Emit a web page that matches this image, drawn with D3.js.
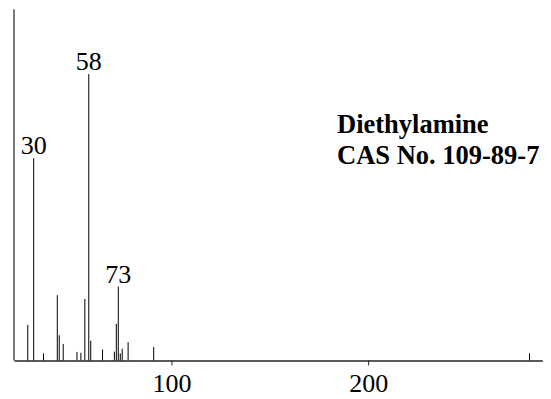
<!DOCTYPE html>
<html>
<head>
<meta charset="utf-8">
<script src="https://cdn.jsdelivr.net/npm/d3@7"></script>
<style>
  html, body { margin: 0; padding: 0; background: #fff; }
  svg { display: block; }
</style>
</head>
<body>
<svg id="chart" width="551" height="399"></svg>
<script>
// Mass spectrum of diethylamine: m/z and relative intensity (base peak = 100)
const mz        = [27, 30, 35, 42, 43, 45, 52, 54, 56, 58, 59, 65, 71, 72, 73, 74, 75, 78, 91, 282];
const intensity = [12.4, 70.6, 2.5, 22.8, 8.8, 5.8, 3.0, 2.7, 21.5, 100, 6.9, 3.8, 3.1, 12.8, 25.8, 2.5, 4.1, 6.4, 4.7, 2.5];
const labelledPeaks = [30, 58, 73];
const xTicks = [100, 200];
const titleLines = ["Diethylamine", "CAS No. 109-89-7"];

const svg = d3.select("#chart");
const serif = "'Liberation Serif', 'Times New Roman', serif";

const x = d3.scaleLinear().domain([20, 288.5]).range([14, 542.3]);
const y = d3.scaleLinear().domain([0, 122.6]).range([360.5, 9.3]);

// sticks
svg.append("g")
  .selectAll("line")
  .data(mz.map((m, i) => ({ m, v: intensity[i] })))
  .join("line")
  .attr("x1", d => x(d.m)).attr("x2", d => x(d.m))
  .attr("y1", y(0)).attr("y2", d => y(d.v))
  .attr("stroke", "#000").attr("stroke-width", 1);

// peak labels
svg.append("g")
  .selectAll("text")
  .data(labelledPeaks.map(m => ({ m, v: intensity[mz.indexOf(m)] })))
  .join("text")
  .attr("x", d => x(d.m))
  .attr("y", d => y(d.v) - 4)
  .attr("text-anchor", "middle")
  .attr("font-family", serif)
  .attr("font-size", 26)
  .attr("fill", "#000")
  .text(d => d.m);

// x axis
const xAxis = svg.append("g")
  .attr("transform", `translate(0,${y(0)})`)
  .call(d3.axisBottom(x).tickValues(xTicks).tickSize(5).tickPadding(8).tickSizeOuter(0));
xAxis.select(".domain").attr("stroke", "#222").attr("stroke-width", 1.3);
xAxis.selectAll(".tick line").attr("stroke", "#222");
xAxis.selectAll(".tick text")
  .attr("font-family", serif).attr("font-size", 26).attr("fill", "#000");

// y axis line (no ticks)
svg.append("line")
  .attr("x1", x(20)).attr("x2", x(20))
  .attr("y1", y(0)).attr("y2", y(122.6))
  .attr("stroke", "#333").attr("stroke-width", 1.3);

// compound name
svg.append("g")
  .selectAll("text")
  .data(titleLines)
  .join("text")
  .attr("x", 337)
  .attr("y", (d, i) => 132.5 + i * 31)
  .attr("font-family", serif)
  .attr("font-weight", "bold")
  .attr("font-size", 26.5)
  .attr("fill", "#000")
  .text(d => d);
</script>
</body>
</html>
